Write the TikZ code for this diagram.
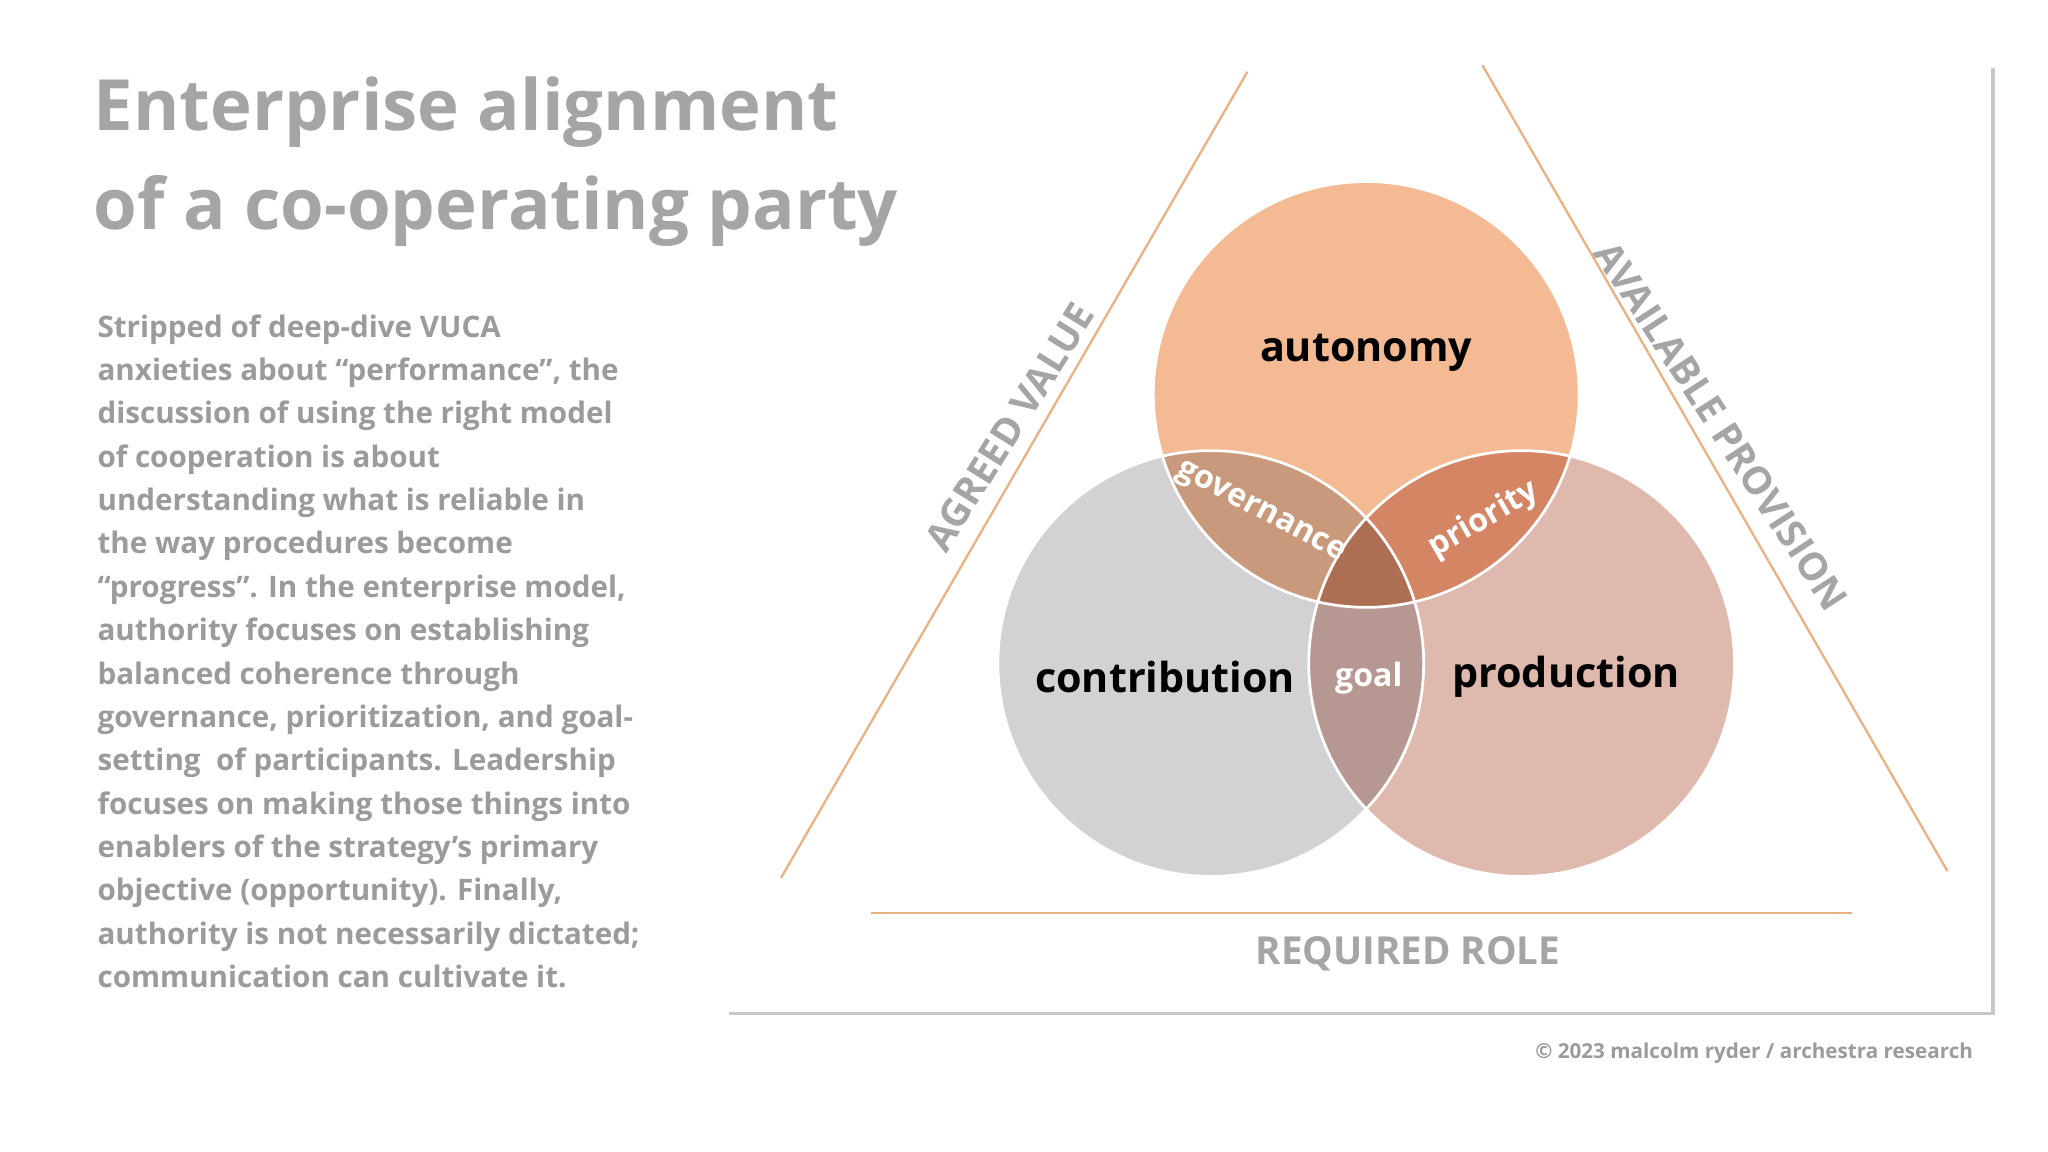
\documentclass[tikz,border=0pt]{standalone}
\usepackage{fontspec}
\setmainfont{Open Sans}
\definecolor{ttl}{RGB}{165,165,165}
\definecolor{bod}{RGB}{155,155,155}
\definecolor{tri}{RGB}{232,178,130}
\definecolor{cto}{RGB}{243,186,148}
\definecolor{cle}{RGB}{210,210,213}
\definecolor{cri}{RGB}{223,184,174}
\begin{document}
\begin{tikzpicture}[x=0.1mm,y=-0.1mm,
  lbl/.style={font=\fontsize{9}{11}\selectfont\bfseries,text=black},
  sml/.style={font=\fontsize{7}{8}\selectfont\bfseries,text=white},
  side/.style={font=\fontsize{8.4}{10}\selectfont\bfseries,text=ttl},
  triline/.style={draw=tri,line width=0.5pt}]
\useasboundingbox (0,0) rectangle (1568,882);
\fill[white] (0,0) rectangle (1568,882);
% frame shadow
\draw[black!22,line width=0.8pt] (1526,52) -- (1526,776) -- (558,776);
% title
\node[anchor=north west,align=left,text=ttl,font=\fontsize{15.4}{21.5}\selectfont\bfseries,inner sep=0] (title) at (71,58) {Enterprise alignment\\of a co-operating party};
\node[anchor=north west,align=left,text=bod,font=\fontsize{6.45}{9.45}\selectfont\bfseries,inner sep=0] (body) at (74,240) {Stripped of deep-dive VUCA\\anxieties about “performance”, the\\discussion of using the right model\\of cooperation is about\\understanding what is reliable in\\the way procedures become\\“progress”. In the enterprise model,\\authority focuses on establishing\\balanced coherence through\\governance, prioritization, and goal-\\setting\ \ of participants. Leadership\\focuses on making those things into\\enablers of the strategy’s primary\\objective (opportunity). Finally,\\authority is not necessarily dictated;\\communication can cultivate it.};
% triangle lines
\coordinate (l1) at (955,55); \coordinate (l2) at (598,672);
\coordinate (r1) at (1135,50); \coordinate (r2) at (1491,667);
\coordinate (b1) at (667,699); \coordinate (b2) at (1418,699);
\draw[triline] (l1) -- (l2); \draw[triline] (r1) -- (r2); \draw[triline] (b1) -- (b2);
% circles
\begin{scope}[blend group=multiply]
\fill[cle] (927,508) circle (163);
\fill[cri] (1165,508) circle (163);
\fill[cto] (1046,302) circle (163);
\end{scope}
\draw[white,line width=0.6pt] (927,508) circle (163) (1165,508) circle (163) (1046,302) circle (163);
\node[lbl] (auto) at (1046,270) {autonomy};
\node[lbl] (contr) at (892,518) {contribution};
\node[lbl] (prod) at (1199,518) {production};
\node[sml] (goal) at (1048,519) {goal};
\node[sml,rotate=-28] (gov) at (965,393) {governance};
\node[sml,rotate=30] (prio) at (1136,398) {priority};
\node[side,rotate=58] (agv) at (773,327) {AGREED VALUE};
\node[side,rotate=-57] (avp) at (1318,326) {AVAILABLE PROVISION};
\node[side] (rr) at (1078,730) {REQUIRED ROLE};
\node[text=bod,font=\fontsize{4.5}{6}\selectfont\bfseries] (copy) at (1343,806) {© 2023 malcolm ryder / archestra research};
\end{tikzpicture}
\end{document}
